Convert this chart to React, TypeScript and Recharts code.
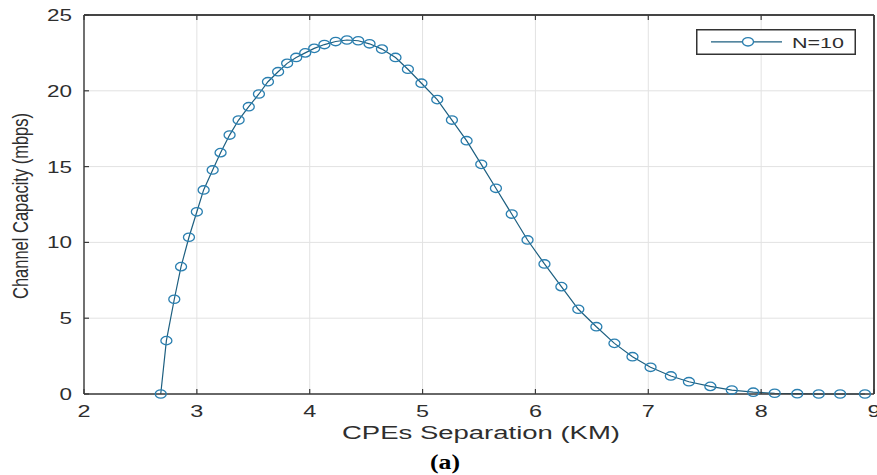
import React from 'react';
import { LineChart, Line, XAxis, YAxis, CartesianGrid, Legend, Label, ReferenceLine } from 'recharts';

const separationKm = [
  2.68, 2.73, 2.8, 2.86, 2.93, 3.0, 3.06, 3.14, 3.21, 3.29,
  3.37, 3.46, 3.55, 3.63, 3.72, 3.8, 3.88, 3.96, 4.04, 4.13,
  4.23, 4.33, 4.43, 4.53, 4.64, 4.76, 4.87, 4.99, 5.13, 5.26,
  5.39, 5.52, 5.65, 5.79, 5.93, 6.08, 6.23, 6.38, 6.54, 6.7,
  6.86, 7.02, 7.2, 7.36, 7.55, 7.74, 7.93, 8.12, 8.32, 8.51,
  8.7, 8.92,
];
const capacityMbps = [
  0, 3.52, 6.25, 8.4, 10.34, 12.02, 13.46, 14.78, 15.92, 17.08,
  18.07, 18.95, 19.79, 20.6, 21.26, 21.81, 22.2, 22.5, 22.8, 23.05,
  23.25, 23.35, 23.3, 23.1, 22.75, 22.2, 21.42, 20.5, 19.42, 18.07,
  16.71, 15.15, 13.57, 11.87, 10.16, 8.58, 7.08, 5.59, 4.44, 3.34,
  2.46, 1.76, 1.19, 0.81, 0.5, 0.26, 0.12, 0.05, 0.02, 0,
  0, 0,
];
const xTicks = [2, 3, 4, 5, 6, 7, 8, 9];
const yTicks = [0, 5, 10, 15, 20, 25];
const seriesName = 'N=10';
const xTitle = 'CPEs Separation (KM)';
const yTitle = 'Channel Capacity (mbps)';
const caption = '(a)';

const data = separationKm.map((x, i) => ({ x, y: capacityMbps[i] }));

const AXIS = '#3a3a3a';
const TEXT = '#2e2e2e';
const LINE = '#1d5f80';
const MARK = '#2a7fb0';
const SANS = '"Liberation Sans", Arial, Helvetica, sans-serif';

const BottomTick = (props: any) => {
  const { x, y, payload } = props;
  const s = String(payload.value);
  return (
    <g>
      <line x1={x} x2={x} y1={y} y2={y - 5} stroke={AXIS} strokeWidth={1.2} />
      <text x={x} y={y + 23} textAnchor="middle" fontFamily={SANS} fontSize={16} fill={TEXT}
        textLength={13 * s.length} lengthAdjust="spacingAndGlyphs">{s}</text>
    </g>
  );
};

const LeftTick = (props: any) => {
  const { x, y, payload } = props;
  const s = String(payload.value);
  return (
    <g>
      <line x1={x} x2={x + 5} y1={y} y2={y} stroke={AXIS} strokeWidth={1.2} />
      <text x={x - 12} y={y + 6} textAnchor="end" fontFamily={SANS} fontSize={16} fill={TEXT}
        textLength={12.5 * s.length} lengthAdjust="spacingAndGlyphs">{s}</text>
    </g>
  );
};

const TopTick = (props: any) => {
  const { x, y } = props;
  return <line x1={x} x2={x} y1={y} y2={y + 5} stroke={AXIS} strokeWidth={1.2} />;
};

const RightTick = (props: any) => {
  const { x, y } = props;
  return <line x1={x} x2={x - 5} y1={y} y2={y} stroke={AXIS} strokeWidth={1.2} />;
};

const Marker = (props: any) => {
  const { cx, cy, index } = props;
  if (cx == null || cy == null) return <g key={`m${index}`} />;
  return (
    <ellipse key={`m${index}`} cx={cx} cy={cy} rx={5.5} ry={4.2} fill="none" stroke={MARK} strokeWidth={1.3} />
  );
};

const LegendContent = (props: any) => {
  const name = props?.payload?.[0]?.value ?? seriesName;
  return (
    <svg width={160} height={26} style={{ display: 'block' }}>
      <rect x={0.75} y={0.75} width={158.5} height={24.5} fill="#fff" stroke="#333" strokeWidth={1.5} />
      <line x1={15} x2={86} y1={12.8} y2={12.8} stroke={LINE} strokeWidth={1.2} />
      <ellipse cx={52} cy={12.8} rx={5.5} ry={4.2} fill="#fff" stroke={MARK} strokeWidth={1.3} />
      <text x={96} y={18.5} fontFamily={SANS} fontSize={15} fill={TEXT} textLength={52} lengthAdjust="spacingAndGlyphs">{name}</text>
    </svg>
  );
};

const XTitle = () => (
  <g>
    <text x={481} y={439} textAnchor="middle" fontFamily={SANS} fontSize={17.5} fill={TEXT}
      textLength={278} lengthAdjust="spacingAndGlyphs">{xTitle}</text>
    <text x={445} y={469} textAnchor="middle" fontFamily='"Liberation Serif", "Times New Roman", serif' fontWeight="bold" fontSize={20} fill="#000"
      textLength={30} lengthAdjust="spacingAndGlyphs">{caption}</text>
  </g>
);

const YTitle = () => (
  <text x={0} y={0} transform="translate(28,206) rotate(-90)" textAnchor="middle" fontFamily={SANS} fontSize={22} fill={TEXT}
    textLength={186} lengthAdjust="spacingAndGlyphs">{yTitle}</text>
);

export default function App() {
  return (
    <div style={{ position: 'absolute', left: 0, top: 0, width: 877, height: 475, background: '#fff' }}>
      <LineChart width={877} height={475} data={data} margin={{ top: 14, right: 2, bottom: 0, left: 0 }}>
        <CartesianGrid stroke="#e2e2e2" strokeWidth={1} />
        <XAxis dataKey="x" type="number" domain={[2, 9]} ticks={xTicks} interval={0} height={81}
          axisLine={{ stroke: AXIS, strokeWidth: 1.4 }} tickLine={false} tickSize={0} tickMargin={0} tick={<BottomTick />}>
          <Label content={<XTitle />} />
        </XAxis>
        <XAxis xAxisId="top" orientation="top" dataKey="x" type="number" domain={[2, 9]} ticks={xTicks} interval={0} height={1}
          axisLine={{ stroke: AXIS, strokeWidth: 1.4 }} tickLine={false} tickSize={0} tickMargin={0} tick={<TopTick />} />
        <YAxis type="number" domain={[0, 25]} ticks={yTicks} interval={0} width={84}
          axisLine={{ stroke: AXIS, strokeWidth: 1.4 }} tickLine={false} tickSize={0} tickMargin={0} tick={<LeftTick />}>
          <Label content={<YTitle />} />
        </YAxis>
        <YAxis yAxisId="right" orientation="right" type="number" domain={[0, 25]} ticks={yTicks} interval={0} width={1}
          axisLine={{ stroke: AXIS, strokeWidth: 1.4 }} tickLine={false} tickSize={0} tickMargin={0} tick={<RightTick />} />
        <ReferenceLine y={25} stroke={AXIS} strokeWidth={1.4} />
        <ReferenceLine x={9} stroke={AXIS} strokeWidth={1.4} />
        <Legend layout="horizontal" verticalAlign="middle" align="center" content={<LegendContent />}
          wrapperStyle={{ position: 'absolute', left: 696, top: 29, width: 160, height: 26, margin: 0, padding: 0 }} />
        <Line type="linear" dataKey="y" name={seriesName} stroke={LINE} strokeWidth={1.2}
          dot={<Marker />} activeDot={false} isAnimationActive={false} legendType="circle" />
      </LineChart>
    </div>
  );
}
